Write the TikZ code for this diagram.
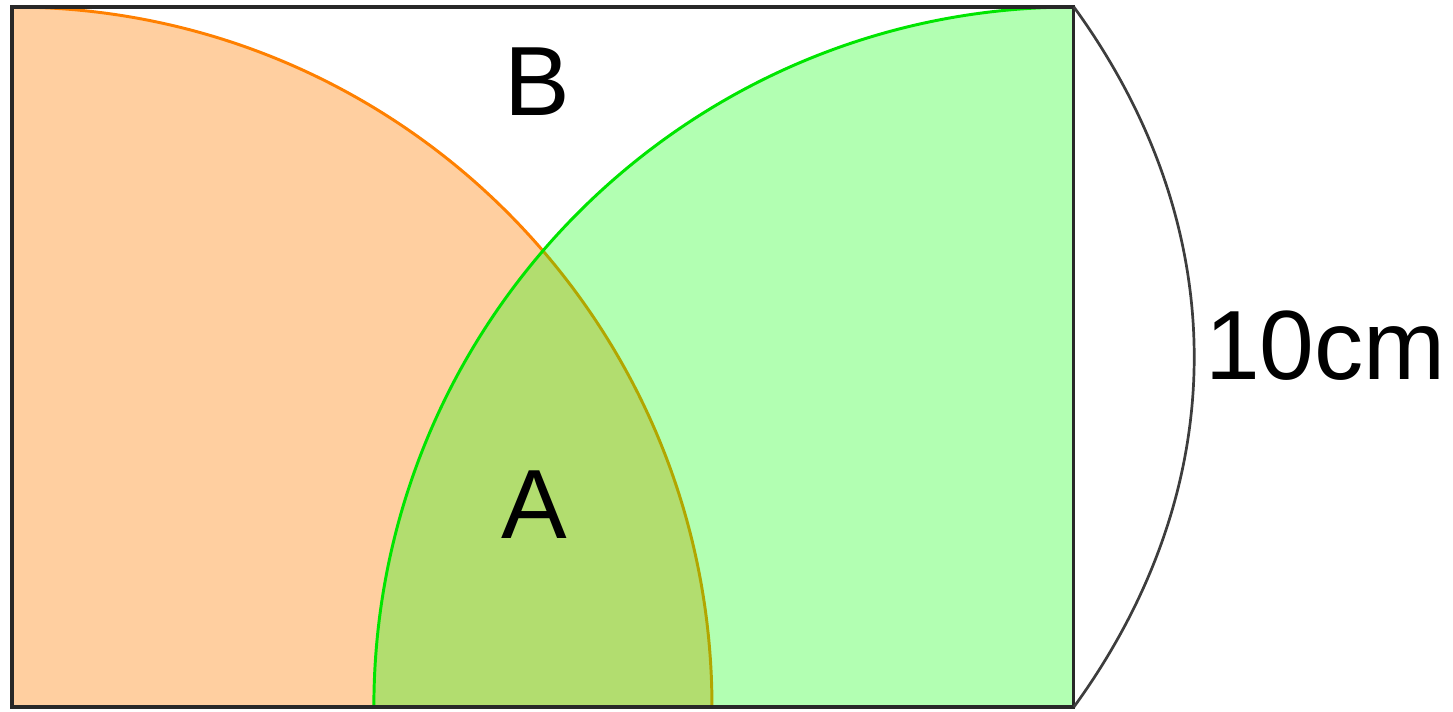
\documentclass[tikz,border=0pt]{standalone}
\usepackage{fontspec}
\setmainfont{Liberation Sans}
\usetikzlibrary{positioning,calc}
\definecolor{SectOrange}{RGB}{255,128,0}
\definecolor{SectGreen}{RGB}{0,255,0}
\definecolor{FillOrange}{RGB}{255,207,160}
\definecolor{FrameGray}{RGB}{40,40,40}
\tikzset{
  frame/.style={draw=FrameGray,line width=1.3pt},
  orangeSect/.style={fill=FillOrange},
  greenSect/.style={fill=SectGreen,fill opacity=0.3},
  orangeRim/.style={draw=SectOrange,line width=1.2pt},
  greenRim/.style={draw=SectGreen!90!black,line width=1.2pt},
  dimArc/.style={draw=FrameGray!90,line width=1.1pt},
  lab/.style={inner sep=0pt,font=\fontsize{40}{48}\selectfont},
}

\begin{document}
\begin{tikzpicture}
\useasboundingbox (-0.171,-0.071) rectangle (20.586,10.1);
\coordinate (bl) at (0,0);
\coordinate (br) at (15.17,0);
\coordinate (tr) at (15.17,10);
\coordinate (tl) at (0,10);
% orange quarter circle round bl
\fill[orangeSect] (bl) -- (10,0) arc (0:90:10) -- cycle;
\draw[orangeRim] (10,0) arc (0:90:10);
% green quarter circle round br
\fill[greenSect] (br) -- ($(br)+(-10,0)$) arc (180:90:10) -- cycle;
\draw[greenRim] ($(br)+(-10,0)$) arc (180:90:10);
\draw[frame] (bl) rectangle (tr);
% the 10cm marker
\draw[dimArc] (tr) to[bend left=36] (br);
\node[lab,anchor=west] (len) at (17.04,5.16) {10cm};
\node[lab] (regB) at (7.51,8.93) {B};
\node[lab] (regA) at (7.46,2.89) {A};
\end{tikzpicture}
\end{document}
